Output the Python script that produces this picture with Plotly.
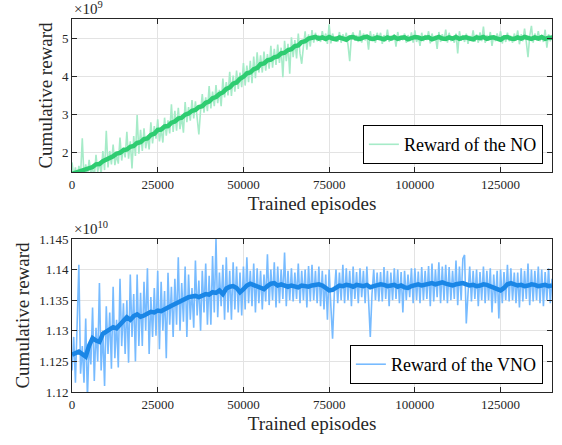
import numpy as np
import plotly.graph_objects as go

raw_episodes = np.arange(0, 140500, 500)
smooth_episodes = np.arange(0, 141000, 1000)

no_raw = [
    1.75, 1.38, 1.62, 1.30, 1.66, 1.42, 2.38, 1.35, 1.70, 1.40, 1.82, 1.48, 1.60, 1.36, 1.95, 1.50, 1.78, 1.45, 2.05, 1.55,
    2.58, 1.62, 2.05, 1.70, 2.22, 1.68, 1.95, 1.72, 2.40, 1.80, 2.15, 1.88, 2.55, 1.85, 2.30, 1.59, 2.44, 1.92, 2.99, 1.98,
    2.60, 2.05, 2.64, 2.12, 2.45, 2.09, 2.80, 2.25, 2.70, 2.37, 2.88, 2.30, 2.62, 2.27, 2.92, 2.45, 2.85, 2.51, 3.27, 2.55,
    3.10, 2.58, 3.18, 2.62, 2.95, 2.53, 3.33, 2.80, 3.20, 2.84, 3.38, 2.90, 3.35, 2.95, 2.48, 3.10, 3.54, 3.05, 3.45, 3.09,
    3.75, 3.16, 3.60, 3.22, 3.77, 3.30, 3.65, 3.22, 3.94, 3.45, 3.85, 3.50, 4.12, 3.49, 4.02, 3.60, 4.15, 3.67, 4.10, 3.72,
    4.35, 3.76, 4.28, 3.85, 4.41, 3.82, 4.52, 3.95, 4.63, 4.10, 4.55, 4.10, 4.65, 4.15, 4.58, 4.20, 4.80, 4.23, 4.72, 4.30,
    4.83, 4.35, 4.75, 3.98, 4.93, 4.40, 4.85, 4.07, 5.02, 4.50, 4.95, 4.47, 5.12, 4.60, 4.33, 4.78, 5.18, 4.70, 5.10, 4.78,
    5.21, 4.88, 5.14, 4.92, 5.08, 4.90, 5.18, 4.95, 5.12, 4.85, 5.36, 4.86, 5.12, 4.95, 5.05, 4.90, 5.16, 4.88, 5.10, 4.93,
    5.14, 4.82, 4.40, 5.05, 5.15, 4.93, 5.08, 4.90, 5.20, 4.88, 5.12, 4.94, 5.06, 4.70, 5.18, 4.92, 5.10, 4.88, 5.14, 4.95,
    5.14, 4.85, 5.08, 4.92, 5.22, 4.90, 5.06, 4.94, 5.10, 4.78, 5.16, 4.92, 5.04, 4.95, 5.12, 4.88, 5.08, 4.92, 5.15, 4.88,
    5.20, 4.90, 5.05, 4.80, 5.14, 4.92, 5.08, 4.95, 5.18, 4.86, 5.12, 4.93, 5.06, 4.72, 5.16, 4.90, 5.10, 4.94, 5.22, 4.88,
    5.14, 4.92, 5.05, 4.88, 5.12, 4.60, 5.18, 4.93, 5.08, 4.90, 5.12, 4.85, 5.06, 4.94, 5.20, 4.90, 5.10, 4.88, 5.15, 4.92,
    5.30, 4.88, 5.08, 4.93, 5.16, 4.80, 5.06, 4.92, 5.12, 4.95, 5.18, 4.86, 5.08, 4.90, 5.14, 4.92, 5.06, 4.88, 5.12, 4.94,
    5.20, 4.84, 5.10, 4.92, 5.25, 4.90, 4.50, 5.05, 5.32, 4.88, 5.12, 4.94, 5.18, 4.92, 5.08, 4.90, 5.22, 4.75, 5.10, 4.92,
    5.08]

no_smooth = [1.45, 1.48, 1.50, 1.55, 1.56, 1.61, 1.63, 1.70, 1.71, 1.78,
             1.82, 1.88, 1.91, 1.98, 2.00, 2.07, 2.09, 2.16, 2.18, 2.26,
             2.28, 2.36, 2.38, 2.47, 2.50, 2.60, 2.61, 2.69, 2.70, 2.79,
             2.82, 2.90, 2.92, 3.00, 3.03, 3.10, 3.12, 3.20, 3.22, 3.31,
             3.34, 3.43, 3.46, 3.54, 3.58, 3.67, 3.71, 3.81, 3.84, 3.94,
             3.99, 4.08, 4.10, 4.19, 4.22, 4.32, 4.34, 4.42, 4.44, 4.50,
             4.52, 4.60, 4.62, 4.69, 4.71, 4.79, 4.81, 4.90, 4.92, 4.99,
             5.01, 5.03, 4.99, 5.02, 4.98, 5.03, 4.99, 4.97, 5.02, 5.00,
             4.96, 5.02, 5.03, 4.99, 4.98, 5.02, 5.04, 4.99, 4.98, 5.02,
             5.00, 4.97, 5.02, 4.99, 5.03, 4.98, 5.01, 5.02, 4.97, 5.01,
             5.03, 5.02, 4.98, 5.01, 5.02, 4.97, 5.01, 5.03, 4.99, 4.98,
             5.02, 4.99, 5.03, 4.98, 5.01, 5.02, 4.99, 4.97, 5.02, 5.00,
             5.03, 4.98, 5.01, 5.02, 4.99, 4.96, 5.02, 5.03, 4.99, 4.98,
             5.02, 4.99, 5.03, 5.00, 4.98, 5.02, 4.99, 5.03, 4.98, 5.01,
             5.01]

vno_raw = [
    1.1235, 1.1290, 1.1215, 1.1300, 1.1408, 1.1230, 1.1275, 1.1215, 1.1320, 1.1190, 1.1280, 1.1245, 1.1338, 1.1218, 1.1305, 1.1250, 1.1378, 1.1235, 1.1300, 1.1210,
    1.1340, 1.1262, 1.1330, 1.1238, 1.1372, 1.1255, 1.1318, 1.1240, 1.1385, 1.1275, 1.1345, 1.1262, 1.1350, 1.1248, 1.1392, 1.1290, 1.1360, 1.1250, 1.1392, 1.1275,
    1.1362, 1.1275, 1.1380, 1.1300, 1.1402, 1.1262, 1.1355, 1.1290, 1.1370, 1.1292, 1.1398, 1.1270, 1.1380, 1.1300, 1.1365, 1.1255, 1.1395, 1.1310, 1.1372, 1.1290,
    1.1385, 1.1310, 1.1420, 1.1300, 1.1378, 1.1315, 1.1405, 1.1290, 1.1392, 1.1318, 1.1370, 1.1305, 1.1415, 1.1325, 1.1382, 1.1300, 1.1398, 1.1330, 1.1410, 1.1310,
    1.1390, 1.1310, 1.1422, 1.1330, 1.1450, 1.1322, 1.1395, 1.1340, 1.1408, 1.1318, 1.1420, 1.1330, 1.1398, 1.1318, 1.1412, 1.1335, 1.1405, 1.1330, 1.1395, 1.1325,
    1.1405, 1.1335, 1.1420, 1.1345, 1.1398, 1.1340, 1.1410, 1.1330, 1.1402, 1.1345, 1.1398, 1.1335, 1.1392, 1.1348, 1.1425, 1.1342, 1.1400, 1.1350, 1.1412, 1.1338,
    1.1405, 1.1345, 1.1400, 1.1352, 1.1428, 1.1340, 1.1398, 1.1350, 1.1402, 1.1348, 1.1395, 1.1352, 1.1410, 1.1345, 1.1398, 1.1350, 1.1400, 1.1338, 1.1406, 1.1348,
    1.1408, 1.1350, 1.1398, 1.1345, 1.1405, 1.1340, 1.1398, 1.1335, 1.1392, 1.1318, 1.1400, 1.1340, 1.1287, 1.1360, 1.1400, 1.1345, 1.1395, 1.1350, 1.1408, 1.1345,
    1.1402, 1.1350, 1.1398, 1.1340, 1.1405, 1.1352, 1.1396, 1.1345, 1.1402, 1.1355, 1.1398, 1.1345, 1.1405, 1.1350, 1.1290, 1.1360, 1.1400, 1.1350, 1.1395, 1.1348,
    1.1396, 1.1348, 1.1404, 1.1352, 1.1398, 1.1340, 1.1395, 1.1350, 1.1402, 1.1352, 1.1400, 1.1345, 1.1396, 1.1330, 1.1398, 1.1350, 1.1392, 1.1355, 1.1402, 1.1345,
    1.1402, 1.1350, 1.1397, 1.1345, 1.1404, 1.1350, 1.1398, 1.1352, 1.1406, 1.1340, 1.1410, 1.1348, 1.1400, 1.1355, 1.1412, 1.1345, 1.1405, 1.1350, 1.1408, 1.1345,
    1.1404, 1.1350, 1.1398, 1.1352, 1.1415, 1.1342, 1.1405, 1.1350, 1.1418, 1.1424, 1.1312, 1.1360, 1.1405, 1.1348, 1.1398, 1.1352, 1.1400, 1.1340, 1.1396, 1.1350,
    1.1405, 1.1345, 1.1398, 1.1350, 1.1402, 1.1330, 1.1392, 1.1345, 1.1398, 1.1320, 1.1400, 1.1345, 1.1396, 1.1350, 1.1408, 1.1348, 1.1402, 1.1350, 1.1395, 1.1345,
    1.1395, 1.1338, 1.1402, 1.1348, 1.1398, 1.1352, 1.1410, 1.1342, 1.1400, 1.1348, 1.1398, 1.1350, 1.1405, 1.1345, 1.1400, 1.1340, 1.1396, 1.1350, 1.1402, 1.1345,
    1.1385]

vno_smooth = [1.1261, 1.1264, 1.1266, 1.1262, 1.1258, 1.1276, 1.1288, 1.1284, 1.1282, 1.1295,
              1.1298, 1.1302, 1.1306, 1.1304, 1.1310, 1.1316, 1.1322, 1.1318, 1.1324, 1.1327,
              1.1323, 1.1325, 1.1329, 1.1331, 1.1330, 1.1333, 1.1332, 1.1336, 1.1338, 1.1341,
              1.1344, 1.1348, 1.1350, 1.1353, 1.1355, 1.1356, 1.1357, 1.1355, 1.1358, 1.1360,
              1.1359, 1.1363, 1.1362, 1.1366, 1.1360, 1.1369, 1.1372, 1.1373, 1.1370, 1.1363,
              1.1368, 1.1374, 1.1377, 1.1375, 1.1372, 1.1371, 1.1368, 1.1373, 1.1377, 1.1378,
              1.1374, 1.1376, 1.1373, 1.1372, 1.1374, 1.1373, 1.1371, 1.1374, 1.1373, 1.1372,
              1.1374, 1.1375, 1.1376, 1.1374, 1.1370, 1.1366, 1.1367, 1.1371, 1.1374, 1.1373,
              1.1375, 1.1374, 1.1372, 1.1375, 1.1374, 1.1373, 1.1375, 1.1371, 1.1373, 1.1374,
              1.1376, 1.1375, 1.1373, 1.1374, 1.1375, 1.1372, 1.1374, 1.1371, 1.1370, 1.1373,
              1.1375, 1.1376, 1.1374, 1.1375, 1.1377, 1.1378, 1.1376, 1.1378, 1.1379, 1.1377,
              1.1375, 1.1374, 1.1376, 1.1377, 1.1378, 1.1376, 1.1374, 1.1375, 1.1373, 1.1374,
              1.1376, 1.1375, 1.1373, 1.1371, 1.1368, 1.1366, 1.1370, 1.1376, 1.1378, 1.1376,
              1.1374, 1.1375, 1.1373, 1.1374, 1.1376, 1.1375, 1.1373, 1.1374, 1.1375, 1.1373,
              1.1374]

x_ticks = [0, 25000, 50000, 75000, 100000, 125000]
x_ticktext = ["0", "25000", "50000", "75000", "100000", "125000"]
top_yticks = [2, 3, 4, 5]
top_ytext = ["2", "3", "4", "5"]
bot_yticks = [1.12, 1.125, 1.13, 1.135, 1.14, 1.145]
bot_ytext = ["1.12", "1.125", "1.13", "1.135", "1.14", "1.145"]

FONT = "Liberation Serif, Times New Roman, serif"
AX = "#262626"

fig = go.Figure()
fig.add_trace(go.Scatter(x=raw_episodes, y=no_raw, mode="lines", name="Reward of the NO",
                         line=dict(color="#a6ebc8", width=1.6), xaxis="x", yaxis="y",
                         legend="legend"))
fig.add_trace(go.Scatter(x=smooth_episodes, y=no_smooth, mode="lines", showlegend=False,
                         line=dict(color="#2ecc71", width=4.5), xaxis="x", yaxis="y"))
fig.add_trace(go.Scatter(x=raw_episodes, y=vno_raw, mode="lines", name="Reward of the VNO",
                         line=dict(color="#77bbff", width=1.6), xaxis="x2", yaxis="y2",
                         legend="legend2"))
fig.add_trace(go.Scatter(x=smooth_episodes, y=vno_smooth, mode="lines", showlegend=False,
                         line=dict(color="#1a86e6", width=4.5), xaxis="x2", yaxis="y2"))

common_axis = dict(showline=True, mirror="ticks", linecolor=AX, linewidth=1,
                   ticks="inside", ticklen=5, tickcolor=AX, showgrid=True,
                   gridcolor="#e3e3e3", zeroline=False,
                   tickfont=dict(family=FONT, size=13, color=AX))
title_font = dict(size=19, family=FONT, color=AX)

fig.update_layout(
    width=562, height=445,
    margin=dict(l=72, r=10, t=19, b=53),
    plot_bgcolor="white", paper_bgcolor="white",
    font=dict(family=FONT, color=AX),
    xaxis=dict(domain=[0, 1], anchor="y", range=[0, 140000], tickvals=x_ticks, ticktext=x_ticktext,
               title=dict(text="Trained episodes", font=title_font, standoff=6), **common_axis),
    yaxis=dict(domain=[0.5898, 1], anchor="x", range=[1.5, 5.5], tickvals=top_yticks, ticktext=top_ytext,
               title=dict(text="Cumulative reward", font=title_font, standoff=4), **common_axis),
    xaxis2=dict(domain=[0, 1], anchor="y2", range=[0, 140000], tickvals=x_ticks, ticktext=x_ticktext,
                title=dict(text="Trained episodes", font=title_font, standoff=6), **common_axis),
    yaxis2=dict(domain=[0, 0.4102], anchor="x2", range=[1.12, 1.145], tickvals=bot_yticks,
                ticktext=bot_ytext,
                title=dict(text="Cumulative reward", font=title_font, standoff=4), **common_axis),
    legend=dict(x=0.981, y=0.611, xanchor="right", yanchor="bottom",
                bgcolor="white", bordercolor="#000000", borderwidth=1,
                font=dict(family=FONT, size=18, color="#000000")),
    legend2=dict(x=0.981, y=0.0214, xanchor="right", yanchor="bottom",
                 bgcolor="white", bordercolor="#000000", borderwidth=1,
                 font=dict(family=FONT, size=18, color="#000000")),
    annotations=[
        dict(text="×10<sup>9</sup>", xref="x domain", yref="y domain", x=0, y=1,
             xanchor="left", yanchor="bottom", showarrow=False,
             font=dict(family=FONT, size=15, color=AX)),
        dict(text="×10<sup>10</sup>", xref="x2 domain", yref="y2 domain", x=0, y=1,
             xanchor="left", yanchor="bottom", showarrow=False,
             font=dict(family=FONT, size=15, color=AX)),
    ],
)

fig.write_html("out.html")
